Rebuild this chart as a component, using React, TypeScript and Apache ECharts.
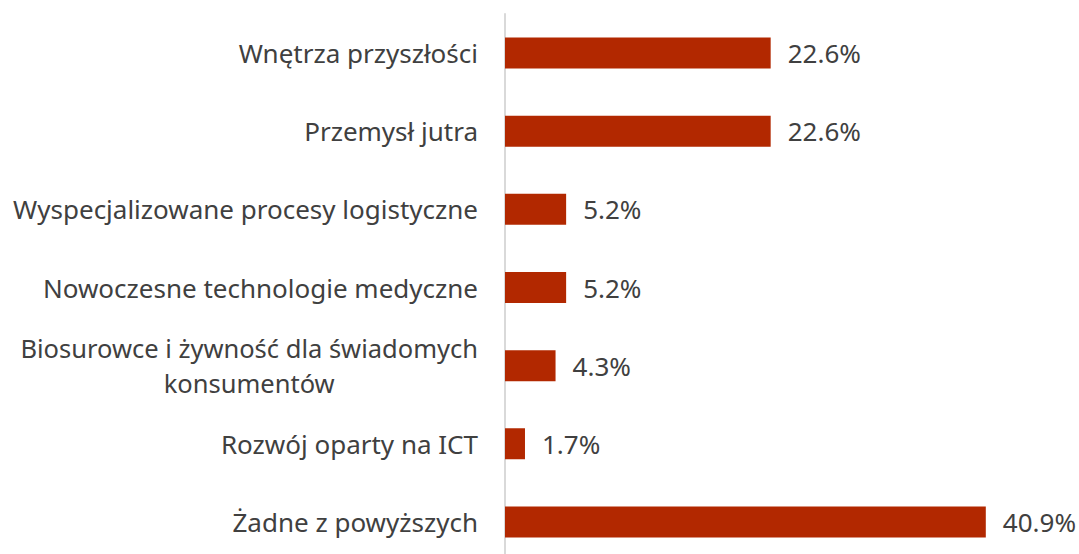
import React, { useEffect, useRef } from "react";
import * as echarts from "echarts";

const categories = [
  "Wnętrza przyszłości",
  "Przemysł jutra",
  "Wyspecjalizowane procesy logistyczne",
  "Nowoczesne technologie medyczne",
  "Biosurowce i żywność dla świadomych\nkonsumentów",
  "Rozwój oparty na ICT",
  "Żadne z powyższych",
];
const values = [22.6, 22.6, 5.2, 5.2, 4.3, 1.7, 40.9];

export default function App() {
  const ref = useRef<HTMLDivElement>(null);
  useEffect(() => {
    if (!ref.current) return;
    const chart = echarts.init(ref.current, null, { renderer: "svg" });
    const font = "'Noto Sans', sans-serif";
    chart.setOption({
      animation: false,
      grid: { left: 505, top: 14, height: 547, width: 529, containLabel: false },
      xAxis: {
        type: "value",
        min: 0,
        max: 45,
        show: false,
      },
      yAxis: {
        type: "category",
        inverse: true,
        data: categories,
        axisTick: { show: false },
        axisLine: { show: true, lineStyle: { color: "#d9d9d9", width: 2 } },
        axisLabel: {
          margin: 27,
          fontFamily: font,
          fontSize: 26,
          color: "#404040",
          formatter: (v: string) =>
            v.indexOf("\n") >= 0
              ? v.split("\n").map((l) => `{m|${l}}`).join("\n")
              : `{c|${v}}`,
          rich: {
            c: { fontFamily: font, fontSize: 26, color: "#404040" },
            m: { align: "center", fontFamily: font, fontSize: 25.5, color: "#404040", lineHeight: 35 },
          },
        },
      },
      series: [
        {
          type: "bar",
          data: values,
          barWidth: 31,
          itemStyle: { color: "#B22800" },
          label: {
            show: true,
            position: "right",
            distance: 17,
            fontFamily: font,
            fontSize: 26,
            color: "#404040",
            formatter: (p: any) => `${p.value.toFixed(1)}%`,
          },
        },
      ],
    });
    return () => chart.dispose();
  }, []);
  return (
    <div
      ref={ref}
      style={{ position: "absolute", left: 0, top: 0, width: 1079, height: 561 }}
    />
  );
}
